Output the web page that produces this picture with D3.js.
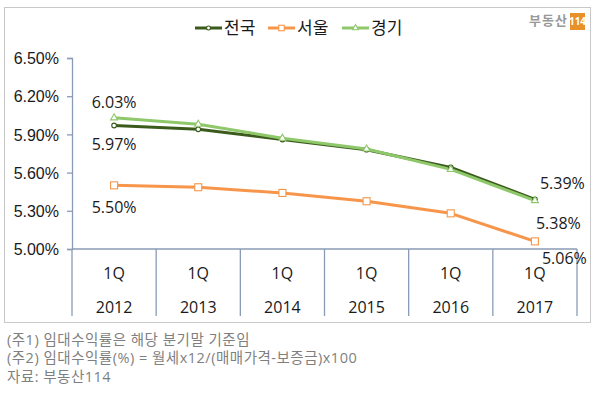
<!DOCTYPE html>
<html><head><meta charset="utf-8">
<script src="https://cdn.jsdelivr.net/npm/d3@7"></script>
<style>
html,body{margin:0;padding:0;background:#fff;}
svg{display:block;font-family:"Open Sans","Noto Sans CJK KR",sans-serif;}
</style></head><body>
<svg id="c" width="600" height="401"></svg>
<script>
const quarters = ["1Q","1Q","1Q","1Q","1Q","1Q"];
const years = ["2012","2013","2014","2015","2016","2017"];
const nationwide = [5.97, 5.94, 5.86, 5.78, 5.64, 5.39];
const seoul = [5.50, 5.485, 5.44, 5.375, 5.28, 5.06];
const gyeonggi = [6.03, 5.98, 5.87, 5.785, 5.625, 5.38];
const yTicks = [5.00, 5.30, 5.60, 5.90, 6.20, 6.50];
const seriesNames = ["전국","서울","경기"];
const notes = ["(주1) 임대수익률은 해당 분기말 기준임","(주2) 임대수익률(%) = 월세x12/(매매가격-보증금)x100","자료: 부동산114"];

const colors = {"전국":"#3b5b1d","서울":"#f7964a","경기":"#8ec86a"};
const series = [
  {name:"서울", values: seoul, marker:"square"},
  {name:"전국", values: nationwide, marker:"circle"},
  {name:"경기", values: gyeonggi, marker:"triangle"}
];

const svg = d3.select("#c");
const L = 72, R = 577, T = 58, B = 249;
const x = d3.scaleBand().domain(years).range([L, R]);
const y = d3.scaleLinear().domain([5.0, 6.5]).range([B, T]);
const axisCol = "#8a9bb5";

// frame
svg.append("rect").attr("x",4.5).attr("y",7.5).attr("width",586).attr("height",315)
  .attr("fill","none").attr("stroke","#c8c8c8").attr("stroke-width",1);

// y axis
const ya = svg.append("g").attr("transform",`translate(${L},0)`)
  .call(d3.axisLeft(y).tickValues(yTicks).tickSize(5).tickPadding(8).tickFormat(d=>d.toFixed(2)+"%"));
ya.select(".domain").attr("stroke",axisCol).attr("stroke-width",1.3);
ya.selectAll(".tick line").attr("stroke",axisCol).attr("stroke-width",1.3);
ya.selectAll(".tick text").attr("fill","#1a1a1a").style("font-size","16px").attr("dy","0.35em");

// x axis
const xa = svg.append("g").attr("transform",`translate(0,${B})`)
  .call(d3.axisBottom(x).tickSize(0).tickFormat(()=>""));
xa.select(".domain").attr("stroke",axisCol).attr("stroke-width",1.3).attr("d",`M${L},0H${R}`);
const bounds = years.map(d=>x(d)).concat([R]);
svg.append("g").selectAll("line").data(bounds).join("line")
  .attr("x1",d=>d).attr("x2",d=>d).attr("y1",B).attr("y2",316)
  .attr("stroke",axisCol).attr("stroke-width",1.3);
const cx = d => x(d) + x.bandwidth()/2;
svg.append("g").selectAll("text").data(years).join("text")
  .attr("x",d=>cx(d)).attr("y",273).attr("dy","0.35em").attr("text-anchor","middle")
  .style("font-size","16px").attr("fill","#1a1a1a").text((d,i)=>quarters[i]);
svg.append("g").selectAll("text").data(years).join("text")
  .attr("x",d=>cx(d)).attr("y",307).attr("dy","0.35em").attr("text-anchor","middle")
  .style("font-size","16px").attr("fill","#1a1a1a").text(d=>d);

// lines
const line = d3.line().x((v,i)=>cx(years[i])).y(v=>y(v));
function marker(g, type, col, px, py, s){
  if(type==="circle") g.append("circle").attr("cx",px).attr("cy",py).attr("r",s*0.36)
    .attr("fill","#fff").attr("stroke",col).attr("stroke-width",1.1);
  else if(type==="square") g.append("rect").attr("x",px-s/2).attr("y",py-s/2).attr("width",s).attr("height",s)
    .attr("fill","#fff").attr("stroke",col).attr("stroke-width",1.1);
  else g.append("path").attr("d",d3.symbol(d3.symbolTriangle, s*s*0.5)()).attr("transform",`translate(${px},${py})`)
    .attr("fill","#fff").attr("stroke",col).attr("stroke-width",1.1);
}
series.forEach(s=>{
  svg.append("path").datum(s.values).attr("d",line).attr("fill","none")
    .attr("stroke",colors[s.name]).attr("stroke-width",3).attr("stroke-linejoin","round");
});
series.forEach(s=>{
  const g = svg.append("g");
  s.values.forEach((v,i)=>marker(g, s.marker, colors[s.name], cx(years[i]), y(v), s.marker==="square"?7:6.5));
});

// data labels
const lbl = [
  {v:gyeonggi[0], i:0, dx:0, dy:-15, anchor:"middle"},
  {v:nationwide[0], i:0, dx:0, dy:19, anchor:"middle"},
  {v:seoul[0], i:0, dx:0, dy:22, anchor:"middle"},
  {v:nationwide[5], i:5, dx:5, dy:-16, anchor:"start"},
  {v:gyeonggi[5], i:5, dx:1, dy:23, anchor:"start"},
  {v:seoul[5], i:5, dx:7, dy:17, anchor:"start"}
];
svg.append("g").selectAll("text").data(lbl).join("text")
  .attr("x",d=>cx(years[d.i])+d.dx).attr("y",d=>y(d.v)+d.dy).attr("dy","0.35em")
  .attr("text-anchor",d=>d.anchor).style("font-size","16px").attr("fill","#1a1a1a")
  .text(d=>d.v.toFixed(2)+"%");

// legend
const legX = [195, 268, 342];
const legMarker = {"전국":"circle","서울":"square","경기":"triangle"};
seriesNames.forEach((n,i)=>{
  const g = svg.append("g");
  g.append("line").attr("x1",legX[i]).attr("x2",legX[i]+27).attr("y1",28).attr("y2",28)
    .attr("stroke",colors[n]).attr("stroke-width",3);
  marker(g, legMarker[n], colors[n], legX[i]+13.5, 28, 5.5);
  g.append("text").attr("x",legX[i]+29).attr("y",28).attr("dy","0.35em")
    .style("font-size","17px").attr("fill","#1a1a1a").text(n);
});

// logo
svg.append("text").attr("x",568).attr("y",20).attr("dy","0.35em").attr("text-anchor","end")
  .style("font-size","13px").style("font-weight","bold").style("letter-spacing","1px").attr("fill","#999").text("부동산");
svg.append("rect").attr("x",570).attr("y",13).attr("width",15).attr("height",17).attr("fill","#e8912a");
svg.append("text").attr("x",577.5).attr("y",21.5).attr("dy","0.35em").attr("text-anchor","middle")
  .style("font-size","10px").style("font-weight","bold").attr("fill","#fff").text("114");

// notes
svg.append("g").selectAll("text").data(notes).join("text")
  .attr("x",7).attr("y",(d,i)=>340+i*18.3).attr("dy","0.35em")
  .style("font-size","14.5px").style("letter-spacing","0.5px").attr("fill","#7f7f7f").text(d=>d);
</script></body></html>
